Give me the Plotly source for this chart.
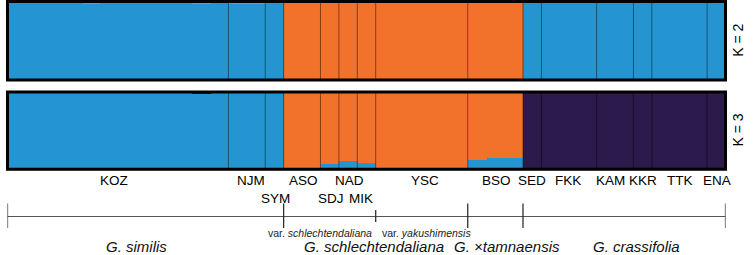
import numpy as np
import plotly.graph_objects as go

# ---------------- data ----------------
pops = ["KOZ", "NJM", "SYM", "ASO", "SDJ", "NAD", "MIK", "YSC", "BSO",
        "SED", "FKK", "KAM", "KKR", "TTK", "ENA"]
n_ind = [12, 2, 1, 2, 1, 1, 1, 5, 3, 1, 3, 2, 1, 3, 1]
label_row = [1, 1, 2, 1, 2, 1, 2, 1, 1, 1, 1, 1, 1, 1, 1]
label_shift = [-4, 4, 1, 1, 1, 1, -6, 3, 1, 0, -1, -5, 0, 1, 1]

# K = 2 : cluster 1 (blue) / cluster 2 (orange)
k2_blue = [1.0, 1.0, 1.0, 1.0, 0.985, 1.0, 1.0, 1.0, 0.99, 1.0, 0.985, 1.0,   # KOZ
           0.985, 0.985,                                                      # NJM
           1.0,                                                               # SYM
           0.0, 0.0,                                                          # ASO
           0.0, 0.0, 0.01,                                                    # SDJ NAD MIK
           0.0, 0.0, 0.0, 0.0, 0.0,                                           # YSC
           0.0, 0.0, 0.0,                                                     # BSO
           1.0,                                                               # SED
           1.0, 1.0, 1.0,                                                     # FKK
           1.0, 1.0,                                                          # KAM
           1.0,                                                               # KKR
           1.0, 0.99, 1.0,                                                    # TTK
           1.0]                                                               # ENA

# K = 3 : blue / orange / purple
k3_blue = [1.0] * 10 + [0.98, 1.0] + [1.0, 1.0] + [1.0] + \
          [0.0, 0.015] + [0.066, 0.106, 0.08] + [0.0] * 5 + \
          [0.123, 0.15, 0.146] + [0.0] + [0.0] * 3 + [0.0] * 2 + [0.0] + [0.0] * 3 + [0.0]
k3_purple = [0.0] * 10 + [0.02, 0.0] + [0.0] * 3 + [0.0] * 2 + [0.0] * 3 + [0.0] * 5 + \
            [0.0] * 3 + [1.0] + [1.0] * 3 + [1.0] * 2 + [1.0] + [1.0, 0.99, 1.0] + [1.0]

taxa = ["<i>G. similis</i>", "<i>G. schlechtendaliana</i>",
        "<i>G. ×tamnaensis</i>", "<i>G. crassifolia</i>"]
taxa_npops = [3, 5, 1, 6]
taxa_shift = [-9, -2, 12, 12]
varieties = ["var. <i>schlechtendaliana</i>", "var. <i>yakushimensis</i>"]
var_npops = [4, 1]          # within G. schlechtendaliana
var_shift = [-10, 5]
k_labels = ["K = 2", "K = 3"]

BLUE = "#2595d2"
ORANGE = "#f2722c"
PURPLE = "#2b1a4b"

# ---------------- derived ----------------
k2_orange = [1 - b for b in k2_blue]
k3_orange = [max(0.0, 1 - b - p) for b, p in zip(k3_blue, k3_purple)]
n_total = sum(n_ind)
xs = np.arange(n_total)
pop_end = np.cumsum(n_ind)
pop_start = pop_end - np.array(n_ind)
pop_center = (pop_start + pop_end) / 2 - 0.5
bounds = pop_end[:-1] - 0.5

W, H = 756, 255
def py(pix):
    return 1 - pix / H

fig = go.Figure()
for vals, col in [(k2_blue, BLUE), (k2_orange, ORANGE)]:
    fig.add_trace(go.Bar(x=xs, y=vals, width=1, marker=dict(color=col, line=dict(width=0)),
                         xaxis="x", yaxis="y", showlegend=False, hoverinfo="skip"))
for vals, col in [(k3_blue, BLUE), (k3_orange, ORANGE), (k3_purple, PURPLE)]:
    fig.add_trace(go.Bar(x=xs, y=vals, width=1, marker=dict(color=col, line=dict(width=0)),
                         xaxis="x2", yaxis="y2", showlegend=False, hoverinfo="skip"))

xdom = [7.5 / W, 725.5 / W]
xr = [-0.5, n_total - 0.5]
ax_common = dict(showgrid=False, zeroline=False, showticklabels=False, ticks="", showline=False)
fig.update_layout(
    width=W, height=H, margin=dict(l=0, r=0, t=0, b=0),
    paper_bgcolor="white", plot_bgcolor="white",
    barmode="stack", bargap=0,
    xaxis=dict(domain=xdom, range=xr, anchor="y", **ax_common),
    yaxis=dict(domain=[py(80), py(1.5)], range=[0, 1], anchor="x", **ax_common),
    xaxis2=dict(domain=xdom, range=xr, anchor="y2", **ax_common),
    yaxis2=dict(domain=[py(169.3), py(92)], range=[0, 1], anchor="x2", **ax_common),
    font=dict(family="Liberation Sans, Arial, sans-serif", color="#000"),
)

shapes = []
# population boundaries
for xa, ya in [("x", "y"), ("x2", "y2")]:
    for b in bounds:
        shapes.append(dict(type="line", xref=xa, yref=ya + " domain", x0=b, x1=b, y0=0, y1=1,
                           line=dict(color="rgba(0,0,0,0.45)", width=1)))
    shapes.append(dict(type="rect", xref=xa + " domain", yref=ya + " domain",
                       x0=0, x1=1, y0=0, y1=1, line=dict(color="#000", width=3)))

# timeline
line_y = py(216.5)
shapes.append(dict(type="line", xref="x", yref="paper", x0=xr[0], x1=xr[1], y0=line_y, y1=line_y,
                   line=dict(color="#555", width=1.2)))
taxa_pop_end = np.cumsum(taxa_npops)
taxa_ind_end = [pop_end[e - 1] for e in taxa_pop_end]
taxa_ind_start = [0] + taxa_ind_end[:-1]
major = [-0.5] + [e - 0.5 for e in taxa_ind_end]
for m in major:
    shapes.append(dict(type="line", xref="x", yref="paper", x0=m, x1=m, y0=py(203.5), y1=py(228),
                       line=dict(color="#222", width=1.2)))
# variety boundary (minor tick)
sch_first_pop = taxa_npops[0]
var_pop_end = sch_first_pop + np.cumsum(var_npops)
var_ind_end = [pop_end[e - 1] for e in var_pop_end]
var_ind_start = [pop_start[sch_first_pop]] + var_ind_end[:-1]
for e in var_ind_end[:-1]:
    shapes.append(dict(type="line", xref="x", yref="paper", x0=e - 0.5, x1=e - 0.5,
                       y0=py(210), y1=py(222), line=dict(color="#222", width=1.2)))
fig.update_layout(shapes=shapes)

ann = []
row_y = {1: py(180), 2: py(198)}
for p, c, r, s in zip(pops, pop_center, label_row, label_shift):
    ann.append(dict(text=p, x=c, y=row_y[r], xref="x", yref="paper", showarrow=False,
                    xanchor="center", yanchor="middle", xshift=s, font=dict(size=13.5, color="#000")))
for t, a, b, s in zip(taxa, taxa_ind_start, taxa_ind_end, taxa_shift):
    ann.append(dict(text=t, x=(a + b) / 2 - 0.5, y=py(246.5), xref="x", yref="paper", showarrow=False,
                    xanchor="center", yanchor="middle", xshift=s, borderpad=0,
                    font=dict(size=15, color="#111")))
for t, a, b, s in zip(varieties, var_ind_start, var_ind_end, var_shift):
    ann.append(dict(text=t, x=(a + b) / 2 - 0.5, y=py(233), xref="x", yref="paper", showarrow=False,
                    xanchor="center", yanchor="middle", xshift=s, borderpad=0,
                    font=dict(size=10.5, color="#222")))
for t, yc in zip(k_labels, [py(40.75), py(130.6)]):
    ann.append(dict(text=t, x=738 / W, y=yc, xref="paper", yref="paper", showarrow=False,
                    textangle=-90, xanchor="center", yanchor="middle", font=dict(size=14, color="#000")))
fig.update_layout(annotations=ann)

fig.write_html("out.html", config={"displayModeBar": False},
               post_script="document.body.style.margin='0';document.body.style.overflow='hidden';"
                           "document.documentElement.style.overflow='hidden';")
